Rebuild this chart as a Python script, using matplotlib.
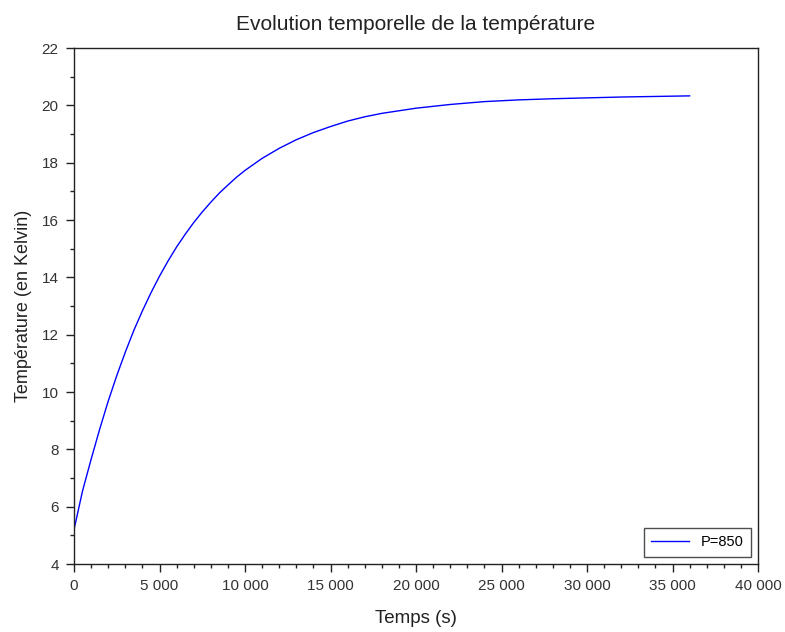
"""Evolution temporelle de la temperature (Scilab-style line chart)."""

import matplotlib
matplotlib.use("Agg")
import matplotlib.pyplot as plt
from matplotlib.ticker import FuncFormatter, MultipleLocator

# Values.
TIME_S = [0, 500, 1000, 1500, 2000, 2500, 3000, 3500, 4000, 4500, 5000,
          5500, 6000, 6500, 7000, 7500, 8000, 8500, 9000, 9500, 10000,
          11000, 12000, 13000, 14000, 15000, 16000, 17000, 18000, 19000,
          20000, 22000, 24000, 26000, 28000, 30000, 32000, 34000, 36000]
TEMP_K = [5.2, 6.55, 7.65, 8.7, 9.68, 10.57, 11.39, 12.15, 12.83, 13.46, 14.04,
          14.57, 15.06, 15.5, 15.91, 16.28, 16.62, 16.94, 17.22, 17.49, 17.73,
          18.15, 18.5, 18.8, 19.05, 19.26, 19.45, 19.6, 19.72, 19.81,
          19.9, 20.03, 20.13, 20.19, 20.23, 20.26, 20.29, 20.31, 20.33]
SERIES_LABEL = "P=850"

TITLE = "Evolution temporelle de la température"
XLABEL = "Temps (s)"
YLABEL = "Température (en Kelvin)"

plt.rcParams["font.family"] = ["Liberation Sans", "DejaVu Sans"]

fig = plt.figure(figsize=(7.85, 6.32), dpi=100)
ax = fig.add_axes([74 / 785, 1 - 564 / 632, 684 / 785, 516 / 632])

ax.plot(TIME_S, TEMP_K, color="#0000ff", lw=1.0, label=SERIES_LABEL)

ax.set_xlim(0, 40000)
ax.set_ylim(4, 22)
ax.xaxis.set_major_locator(MultipleLocator(5000))
ax.xaxis.set_minor_locator(MultipleLocator(1000))
ax.yaxis.set_major_locator(MultipleLocator(2))
ax.yaxis.set_minor_locator(MultipleLocator(1))
ax.xaxis.set_major_formatter(
    FuncFormatter(lambda v, _: f"{int(v):,}".replace(",", " ")))

for side in ax.spines.values():
    side.set_color("#222222")
    side.set_linewidth(1.0)

ax.tick_params(which="major", length=6, width=1.0, color="#222222",
               labelsize=11, labelcolor="#333333", pad=5)
ax.tick_params(which="minor", length=3, width=1.0, color="#222222")

ax.set_title(TITLE, fontsize=15, color="#222222", pad=13)
ax.set_xlabel(XLABEL, fontsize=13.5, color="#222222", labelpad=12)
ax.set_ylabel(YLABEL, fontsize=13, color="#222222", labelpad=7)

leg = ax.legend(loc="lower right", fontsize=10.5, frameon=True, fancybox=False,
                handlelength=2.6, borderpad=0.5, borderaxespad=0.5)
leg.get_frame().set_edgecolor("#222222")
leg.get_frame().set_linewidth(1.0)

fig.savefig("out.png", dpi=100)
